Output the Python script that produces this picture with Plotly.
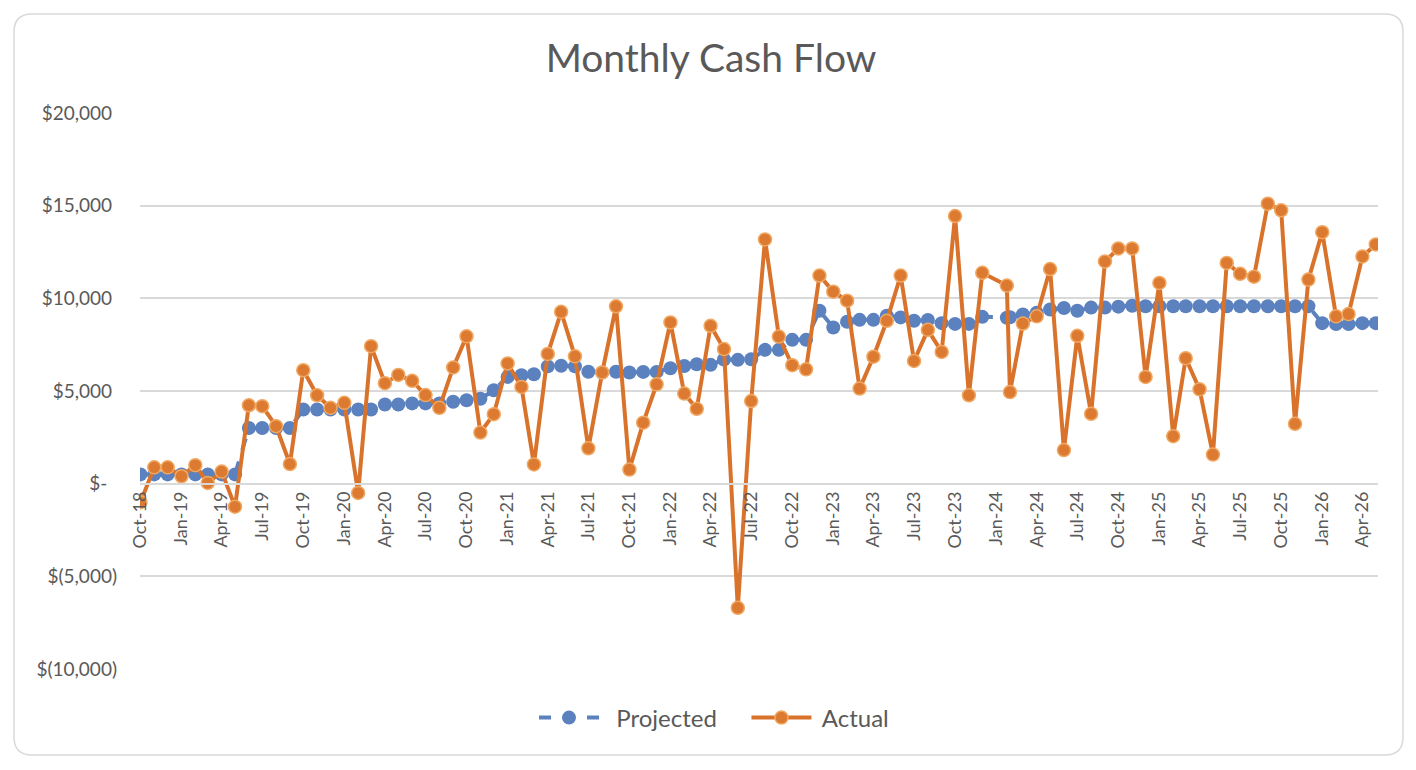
import pandas as pd
import plotly.graph_objects as go

# monthly points, Oct-18 .. May-26 (the Jan-24 row was entered on the 25th)
MONTHS = pd.date_range("2018-10-01", periods=92, freq="MS")
ODD_DATES = {63: "2024-01-25"}

PROJECTED = [
    500, 500, 500, 500, 500, 500, 500, 500, 3000, 3000, 3000, 3000,
    4000, 4000, 4000, 4000, 4000, 4000, 4270, 4270, 4330, 4330, 4330, 4420,
    4500, 4580, 5040, 5760, 5850, 5900, 6330, 6360, 6330, 6040, 6000, 6040,
    6000, 6030, 6030, 6230, 6350, 6440, 6410, 6700, 6680, 6710, 7220, 7220,
    7760, 7760, 9330, 8430, 8740, 8840, 8840, 9060, 8970, 8790, 8830, 8660,
    8620, 8620, 9000, 8950, 8980, 9130, 9220, 9400, 9480, 9330, 9500, 9500,
    9550, 9600, 9570, 9570, 9570, 9570, 9570, 9570, 9570, 9570, 9570, 9570,
    9570, 9570, 9570, 8660, 8610, 8610, 8660, 8660,
]
ACTUAL = [
    -1000, 880, 880, 400, 1000, 40, 650, -1240, 4230, 4180, 3100, 1060,
    6120, 4770, 4090, 4360, -500, 7420, 5420, 5870, 5550, 4780, 4090, 6270,
    7950, 2760, 3750, 6490, 5220, 1040, 7000, 9270, 6870, 1910, 6000, 9570,
    760, 3290, 5360, 8700, 4860, 4040, 8520, 7260, -6700, 4460, 13180, 7940,
    6390, 6170, 11230, 10360, 9870, 5130, 6850, 8790, 11230, 6620, 8300, 7110,
    14440, 4770, 11380, 10690, 4940, 8640, 9030, 11580, 1810, 7980, 3770, 11990,
    12690, 12690, 5760, 10830, 2560, 6770, 5090, 1570, 11910, 11320, 11170, 15110,
    14750, 3230, 11010, 13570, 9030, 9150, 12260, 12910,
]

Y_TICKS = [-10000, -5000, 0, 5000, 10000, 15000, 20000]
Y_LABELS = ["$(10,000)", "$(5,000)", "$-\u00a0\u00a0", "$5,000\u00a0", "$10,000\u00a0",
            "$15,000\u00a0", "$20,000\u00a0"]

# the page body keeps an 8px margin, so the figure is drawn 8px smaller
PAGE_OFF = 8
W, H = 1416 - PAGE_OFF, 770 - PAGE_OFF
L, R, T, B = 140 - PAGE_OFF, 38, 113 - PAGE_OFF, 101
FONT = "Lato, Carlito, Calibri, sans-serif"
GREY = "#595959"
BLUE = "#5B82BF"
ORANGE = "#D9732B"
NB = "\u00a0"

dates = [str(d.date()) for d in MONTHS]
for i, d in ODD_DATES.items():
    dates[i] = d


def px_x(x):
    # page pixel -> paper fraction
    return (x - PAGE_OFF - L) / (W - L - R)


def px_y(y):
    return (H - B - (y - PAGE_OFF)) / (H - T - B)


def rounded_rect(x0, y0, x1, y1, r):
    rx, ry = r / (W - L - R), r / (H - T - B)
    a, b, c, d = px_x(x0), px_y(y0), px_x(x1), px_y(y1)
    return (f"M {a + rx},{b} L {c - rx},{b} Q {c},{b} {c},{b - ry} "
            f"L {c},{d + ry} Q {c},{d} {c - rx},{d} L {a + rx},{d} "
            f"Q {a},{d} {a},{d + ry} L {a},{b - ry} Q {a},{b} {a + rx},{b} Z")


fig = go.Figure()
fig.add_trace(go.Scatter(
    x=dates, y=PROJECTED, name=NB * 2 + "Projected" + NB * 4, mode="lines+markers",
    line=dict(color=BLUE, width=4, dash="dash"),
    marker=dict(color=BLUE, size=14, line=dict(width=0)),
))
fig.add_trace(go.Scatter(
    x=dates, y=ACTUAL, name=NB + "Actual", mode="lines+markers",
    line=dict(color=ORANGE, width=4),
    marker=dict(color="#DC7A32", size=13, line=dict(color="#F0A862", width=1.5)),
))

fig.update_layout(
    width=W, height=H,
    margin=dict(l=L, r=R, t=T, b=B),
    paper_bgcolor="white", plot_bgcolor="white",
    font=dict(family=FONT, color=GREY),
    title=dict(text="Monthly Cash Flow", x=(711 - PAGE_OFF) / W, xref="container", xanchor="center",
               y=1 - (58 - PAGE_OFF) / H, yref="container", yanchor="middle",
               font=dict(size=39, color=GREY, family=FONT)),
    showlegend=True,
    legend=dict(orientation="h", x=px_x(714), xanchor="center", y=px_y(718), yanchor="middle",
                font=dict(size=24, color=GREY, family=FONT), itemwidth=60,
                bgcolor="rgba(0,0,0,0)"),
    shapes=[dict(type="path", xref="paper", yref="paper", layer="below",
                 path=rounded_rect(14, 14, 1403, 755, 18),
                 line=dict(color="#D9D9D9", width=1.5), fillcolor="rgba(0,0,0,0)")],
)

fig.update_xaxes(
    type="date", range=["2018-09-30", "2026-05-06"],
    tick0="2018-10-01", dtick="M3", tickformat="%b-%y", tickangle=-90,
    anchor="free", position=(0 - Y_TICKS[0]) / (Y_TICKS[-1] - Y_TICKS[0]),
    showgrid=False, showline=True, linecolor="#D9D9D9", linewidth=1.5,
    ticks="", tickfont=dict(size=18, color=GREY, family=FONT),
)
fig.update_yaxes(
    range=[Y_TICKS[0], Y_TICKS[-1]], tickvals=Y_TICKS, ticktext=Y_LABELS,
    showgrid=True, gridcolor="#D9D9D9", gridwidth=1.5, zeroline=False,
    ticks="", ticklabelstandoff=22,
    tickfont=dict(size=19, color=GREY, family=FONT),
)

fig.write_html("out.html")
